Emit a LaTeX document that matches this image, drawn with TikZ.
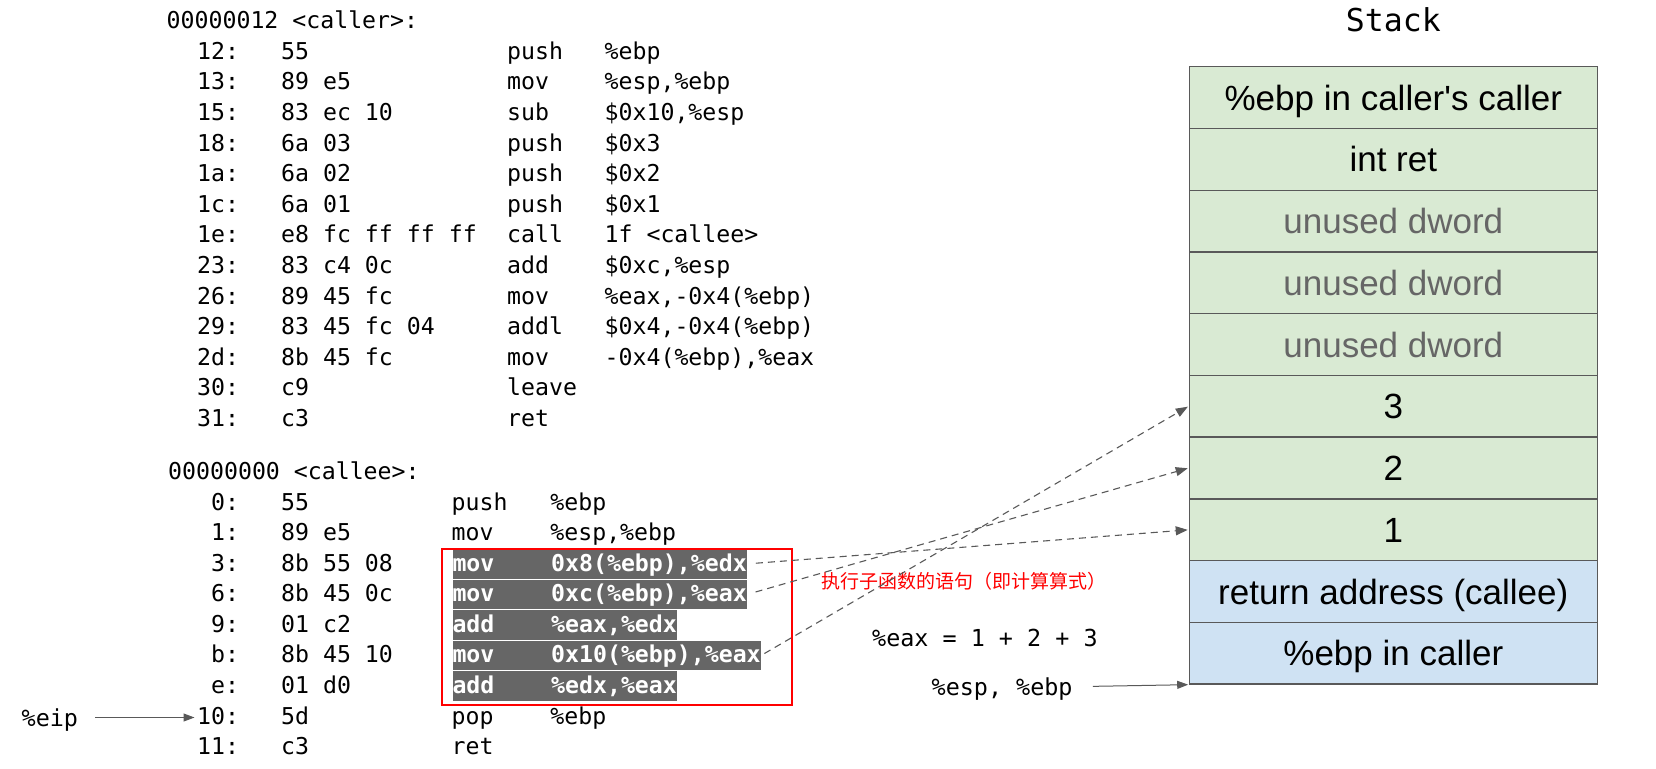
\documentclass[tikz,border=0pt]{standalone}
\usepackage{fontspec}
\setmainfont{Liberation Sans}
\newfontfamily\stackfont{Liberation Sans}[Ligatures=TeXOff]
\newfontfamily\codefont{DejaVu Sans Mono}
\newfontfamily\cjkfont{Noto Sans CJK SC}
\usetikzlibrary{arrows.meta}
\definecolor{stkgreen}{HTML}{D9EAD3}
\definecolor{stkblue}{HTML}{CFE2F3}
\definecolor{linegray}{HTML}{595959}
\definecolor{txtgray}{HTML}{666666}
\definecolor{bargray}{HTML}{666666}
\newcommand\crline[4]{\makebox[84pt][l]{#1}\makebox[226pt][l]{#2}\makebox[97.5pt][l]{#3}#4}
\newcommand\celine[4]{\makebox[84pt][l]{#1}\makebox[170.5pt][l]{#2}\makebox[98.7pt][l]{#3}#4}
\newcommand\ceaddr[2]{\makebox[84pt][l]{#1}#2}
\newcommand\cebar[2]{\makebox[98.7pt][l]{#1}#2\hspace{1.5pt}}
\begin{document}
\begin{tikzpicture}[x=1pt,y=-1pt,
  code/.style={font=\codefont\fontsize{23.2}{28}\selectfont, anchor=west, inner sep=0pt, text height=17pt, text depth=0pt},
  bar/.style={font=\codefont\bfseries\fontsize{23.2}{28}\selectfont, fill=bargray, text=white, anchor=base west, inner sep=0pt, text height=22.1pt, text depth=7.4pt},
  lbl/.style={font=\codefont\fontsize{23.4}{28}\selectfont, anchor=west, inner sep=0pt, text height=17pt, text depth=0pt},
  stk/.style={draw=linegray, line width=1.2pt, minimum width=408pt, minimum height=61.73pt, inner sep=0pt, font=\stackfont\fontsize{35}{42}\selectfont, text height=25pt, text depth=0pt},
  gcell/.style={stk, fill=stkgreen},
  bcell/.style={stk, fill=stkblue},
  dasharrow/.style={draw=linegray, line width=1.1pt, dash pattern=on 7pt off 5pt, -{Triangle[length=12pt,width=9pt]}},
  sarrow/.style={draw=linegray, line width=1pt, -{Triangle[length=11pt,width=8pt]}}
]
\useasboundingbox (0,0) rectangle (1656,768);

% caller listing
\node[code] (crhead) at (166.5,20.5) {00000012 <caller>:};
\node[code] (cr12) at (197,50.7)  {\crline{12:}{55}{push}{\%ebp}};
\node[code] (cr13) at (197,81.3)  {\crline{13:}{89 e5}{mov}{\%esp,\%ebp}};
\node[code] (cr15) at (197,111.9) {\crline{15:}{83 ec 10}{sub}{\$0x10,\%esp}};
\node[code] (cr18) at (197,142.5) {\crline{18:}{6a 03}{push}{\$0x3}};
\node[code] (cr1a) at (197,173.1) {\crline{1a:}{6a 02}{push}{\$0x2}};
\node[code] (cr1c) at (197,203.7) {\crline{1c:}{6a 01}{push}{\$0x1}};
\node[code] (cr1e) at (197,234.3) {\crline{1e:}{e8 fc ff ff ff}{call}{1f <callee>}};
\node[code] (cr23) at (197,264.9) {\crline{23:}{83 c4 0c}{add}{\$0xc,\%esp}};
\node[code] (cr26) at (197,295.5) {\crline{26:}{89 45 fc}{mov}{\%eax,-0x4(\%ebp)}};
\node[code] (cr29) at (197,326.1) {\crline{29:}{83 45 fc 04}{addl}{\$0x4,-0x4(\%ebp)}};
\node[code] (cr2d) at (197,356.7) {\crline{2d:}{8b 45 fc}{mov}{-0x4(\%ebp),\%eax}};
\node[code] (cr30) at (197,387.3) {\crline{30:}{c9}{leave}{}};
\node[code] (cr31) at (197,417.9) {\crline{31:}{c3}{ret}{}};

% callee listing
\node[code] (cehead) at (168,470.7) {00000000 <callee>:};
\node[code] (ce0) at (197,501.7)  {\celine{\ 0:}{55}{push}{\%ebp}};
\node[code] (ce1) at (197,532.25) {\celine{\ 1:}{89 e5}{mov}{\%esp,\%ebp}};
\node[code] (ce3) at (197,562.8)  {\ceaddr{\ 3:}{8b 55 08}};
\node[code] (ce6) at (197,593.35) {\ceaddr{\ 6:}{8b 45 0c}};
\node[code] (ce9) at (197,623.9)  {\ceaddr{\ 9:}{01 c2}};
\node[code] (ceb) at (197,654.45) {\ceaddr{\ b:}{8b 45 10}};
\node[code] (cee) at (197,685)    {\ceaddr{\ e:}{01 d0}};
\node[code] (ce10) at (197,715.55) {\celine{10:}{5d}{pop}{\%ebp}};
\node[code] (ce11) at (197,746.1)  {\celine{11:}{c3}{ret}{}};

% highlighted statements
\node[bar] (b3) at (452.3,571.25) {\cebar{mov}{0x8(\%ebp),\%edx}};
\node[bar] (b6) at (452.3,601.8)  {\cebar{mov}{0xc(\%ebp),\%eax}};
\node[bar] (b9) at (452.3,632.35) {\cebar{add}{\%eax,\%edx}};
\node[bar] (bb) at (452.3,662.9)  {\cebar{mov}{0x10(\%ebp),\%eax}};
\node[bar] (be) at (452.3,693.45) {\cebar{add}{\%edx,\%eax}};
\node[draw=red, line width=2pt, minimum width=350pt, minimum height=155.7pt, inner sep=0pt, anchor=north west] (redbox) at (441,548.3) {};

% labels
\node[font=\cjkfont\fontsize{19}{23}\selectfont, text=red, anchor=west, inner sep=0pt] (note) at (821,581) {执行子函数的语句（即计算算式）};
\node[lbl] (sum) at (872,638) {\%eax = 1 + 2 + 3};
\node[lbl] (esp) at (931.5,686.7) {\%esp, \%ebp};
\node[lbl] (eip) at (21.5,717.5) {\%eip};
\node[font=\codefont\fontsize{31.5}{36}\selectfont, inner sep=0pt, text height=23pt, text depth=0pt] (title) at (1393.3,19.7) {Stack};

% stack
\node[gcell] (s1) at (1393.3,97.6)  {\%ebp in caller's caller};
\node[gcell] (s2) at (1393.3,159.3) {int ret};
\node[gcell, text=txtgray] (s3) at (1393.3,221.0) {unused dword};
\node[gcell, text=txtgray] (s4) at (1393.3,282.8) {unused dword};
\node[gcell, text=txtgray] (s5) at (1393.3,344.5) {unused dword};
\node[gcell] (s6) at (1393.3,406.2) {3};
\node[gcell] (s7) at (1393.3,468.0) {2};
\node[gcell] (s8) at (1393.3,529.8) {1};
\node[bcell] (s9) at (1393.3,591.5) {return address (callee)};
\node[bcell] (s10) at (1393.3,653.2) {\%ebp in caller};

% connectors
\draw[dasharrow, shorten <=9pt, shorten >=1pt] (b3.east) -- (s8.west);
\draw[dasharrow, shorten <=9pt, shorten >=1pt] (b6.east) -- (s7.west);
\draw[dasharrow, shorten <=4pt, shorten >=1pt] (bb.east) -- (s6.west);
\draw[sarrow, shorten <=17pt, shorten >=2.5pt] (eip.east) -- (eip.east -| ce10.west);
\draw[sarrow, shorten <=20pt, shorten >=0.5pt] (esp.east) -- (s10.south west);
\end{tikzpicture}
\end{document}
